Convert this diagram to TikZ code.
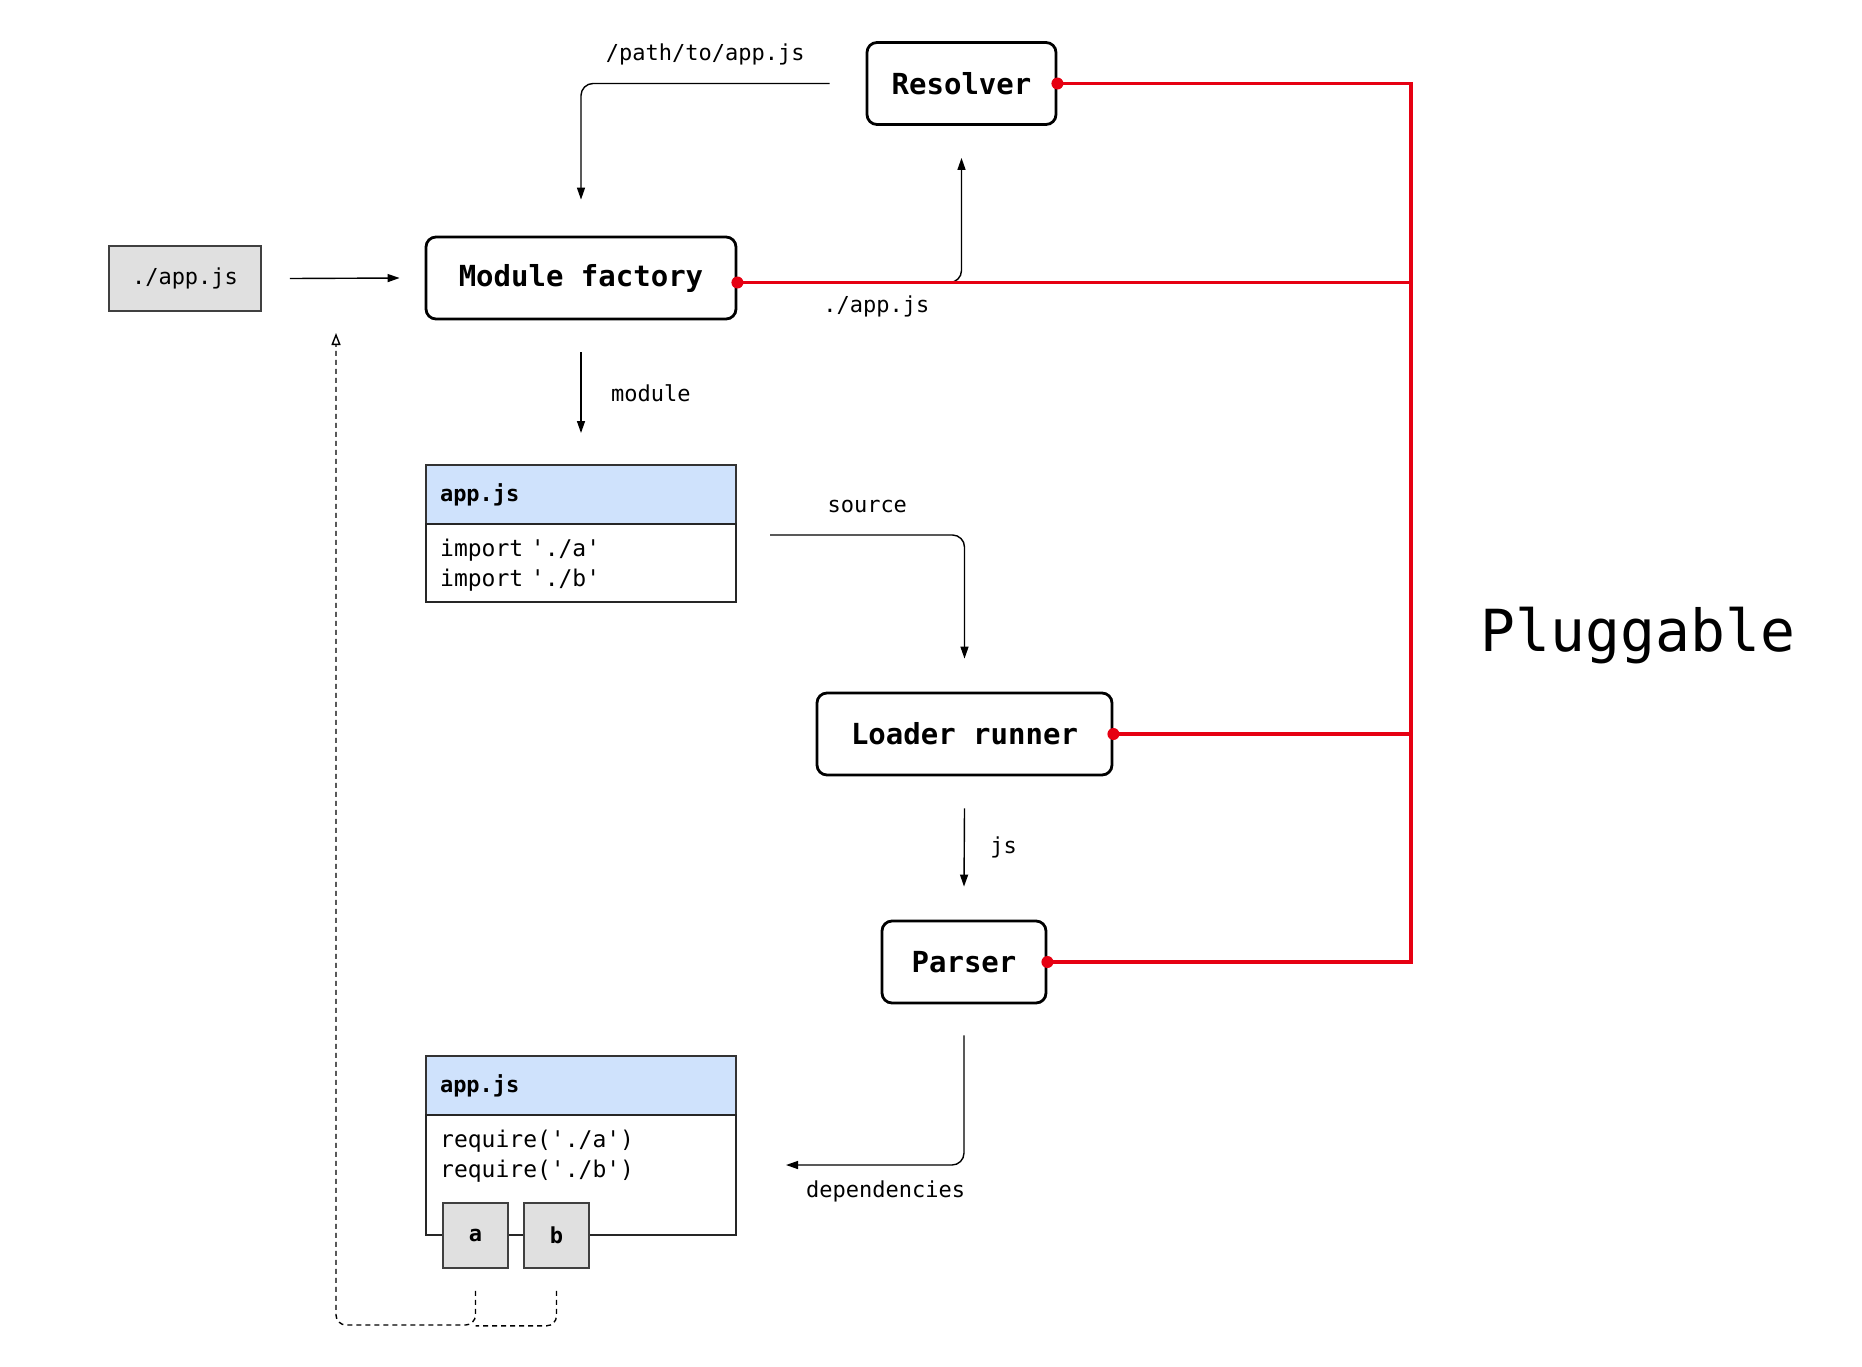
\documentclass[tikz,border=0pt]{standalone}
\usepackage{fontspec}
\setmonofont{DejaVu Sans Mono}
\usetikzlibrary{arrows.meta, positioning}

\definecolor{plugred}{RGB}{230,0,18}
\definecolor{headblue}{RGB}{207,226,252}
\definecolor{boxgray}{RGB}{224,224,224}

\begin{document}
\begin{tikzpicture}[x=1pt, y=-1pt, font=\ttfamily,
   stagebox/.style={draw, line width=2.8pt, rounded corners=10pt, minimum height=82pt,
                    font=\ttfamily\bfseries\fontsize{29}{34}\selectfont},
   filebox/.style={draw=black!75, fill=boxgray, line width=1.6pt, font=\ttfamily\fontsize{22}{26}\selectfont},
   filehead/.style={draw=black!80, fill=headblue, line width=1.8pt, outer sep=0pt, minimum height=59pt,
                    text width=282pt, inner xsep=14pt, align=left, font=\ttfamily\bfseries\fontsize{22}{26}\selectfont},
   filebody/.style={draw=black!85, line width=1.8pt, outer sep=0pt, minimum width=310pt},
   filecode/.style={text width=282pt, inner xsep=14pt, inner ysep=15pt, align=left,
                    font=\ttfamily\fontsize{23}{30}\selectfont},
   edgetext/.style={text height=16pt, text depth=5pt, font=\ttfamily\fontsize{22}{26}\selectfont},
   flowline/.style={-{Triangle[length=12pt,width=8pt]}, line width=1.4pt, rounded corners=12pt},
   backline/.style={line width=1.4pt, dash pattern=on 5pt off 4pt, rounded corners=10pt},
   plugline/.style={draw=plugred, line width=3.5pt}]

   \useasboundingbox (0,0) rectangle (1862,1366);

   % Nodes
      \node[stagebox, minimum width=189pt]  (resolver) at (961.5,83.5)  {Resolver};
      \node[stagebox, minimum width=310pt]  (factory)  at (581,278)     {Module factory};
      \node[filebox, minimum width=152pt, minimum height=65pt] (entry) at (185,278.5) {./app.js};

      \node[filehead]  (app1head)  at (581,494.5)  {app.js};
      \node[filebody, minimum height=78pt, below=0pt of app1head]  (app1body)  {};
      \node[filecode, anchor=north west]  (app1code)  at (app1body.north west)  {import './a'\\import './b'};

      \node[stagebox, minimum width=295pt]  (loader)  at (964.5,734)  {Loader runner};
      \node[stagebox, minimum width=164pt]  (parser)  at (964,962)    {Parser};

      \node[filehead]  (app2head)  at (581,1085.5)  {app.js};
      \node[filebody, minimum height=120pt, below=0pt of app2head]  (app2body)  {};
      \node[filecode, anchor=north west]  (app2code)  at (app2body.north west)  {require('./a')\\require('./b')};
      \node[filebox, minimum size=65pt, font=\ttfamily\bfseries\fontsize{22}{26}\selectfont]  (depa)  at (475.5,1235.5)  {a};
      \node[filebox, minimum size=65pt, font=\ttfamily\bfseries\fontsize{22}{26}\selectfont]  (depb)  at (556.5,1235.5)  {b};

      \node[font=\ttfamily\fontsize{58}{66}\selectfont]  (pluggable)  at (1638,636)  {Pluggable};

      \coordinate (bus)        at (1411,0);
      \coordinate (factoryout) at ([yshift=-4.5pt]factory.east);
      \coordinate (loopback)   at (336,333);
      \coordinate (loopcorner) at (336,1325);

   % Paths
      \draw[flowline] ([xshift=-36pt]resolver.west) -| node[edgetext, pos=0.25, above=14pt] {/path/to/app.js} ([yshift=36pt]factory.north);
      \draw[flowline] ([xshift=28pt]entry.east) -- ([xshift=-25pt]factory.west);
      \draw[flowline] (factoryout) -| node[edgetext, pos=0.31, below=10pt] {./app.js} ([yshift=-32pt]resolver.south);
      \draw[flowline] ([yshift=-32pt]factory.south) -- node[edgetext, right=26pt, yshift=-3pt] {module} ([yshift=32pt]app1head.north);
      \draw[flowline] ([xshift=34pt,yshift=-11pt]app1body.north east) -| node[edgetext, pos=0.25, above=13pt] {source} ([yshift=33pt]loader.north);
      \draw[flowline] ([yshift=-32pt]loader.south) -- node[edgetext, right=22pt] {js} ([yshift=33pt]parser.north);
      \draw[flowline] ([yshift=-31pt]parser.south) |- node[edgetext, pos=0.72, below=12pt] {dependencies} ([xshift=50pt,yshift=10pt]app2body.east);

      \draw[backline, -{Triangle[open,length=12pt,width=9pt]}] ([yshift=-22pt]depa.south) |- (loopcorner) -- (loopback);
      \draw[backline] ([yshift=-22pt]depb.south) |- ([yshift=-57pt]depa.south);

      \draw[plugline] (resolver.east) -- (resolver.east -| bus) -- (parser.east -| bus) -- (parser.east);
      \draw[plugline] (factoryout) -- (factoryout -| bus);
      \draw[plugline] (loader.east) -- (loader.east -| bus);
      \foreach \n in {resolver.east, factoryout, loader.east, parser.east}
         \fill[plugred] (\n) circle (6pt);
\end{tikzpicture}
\end{document}
